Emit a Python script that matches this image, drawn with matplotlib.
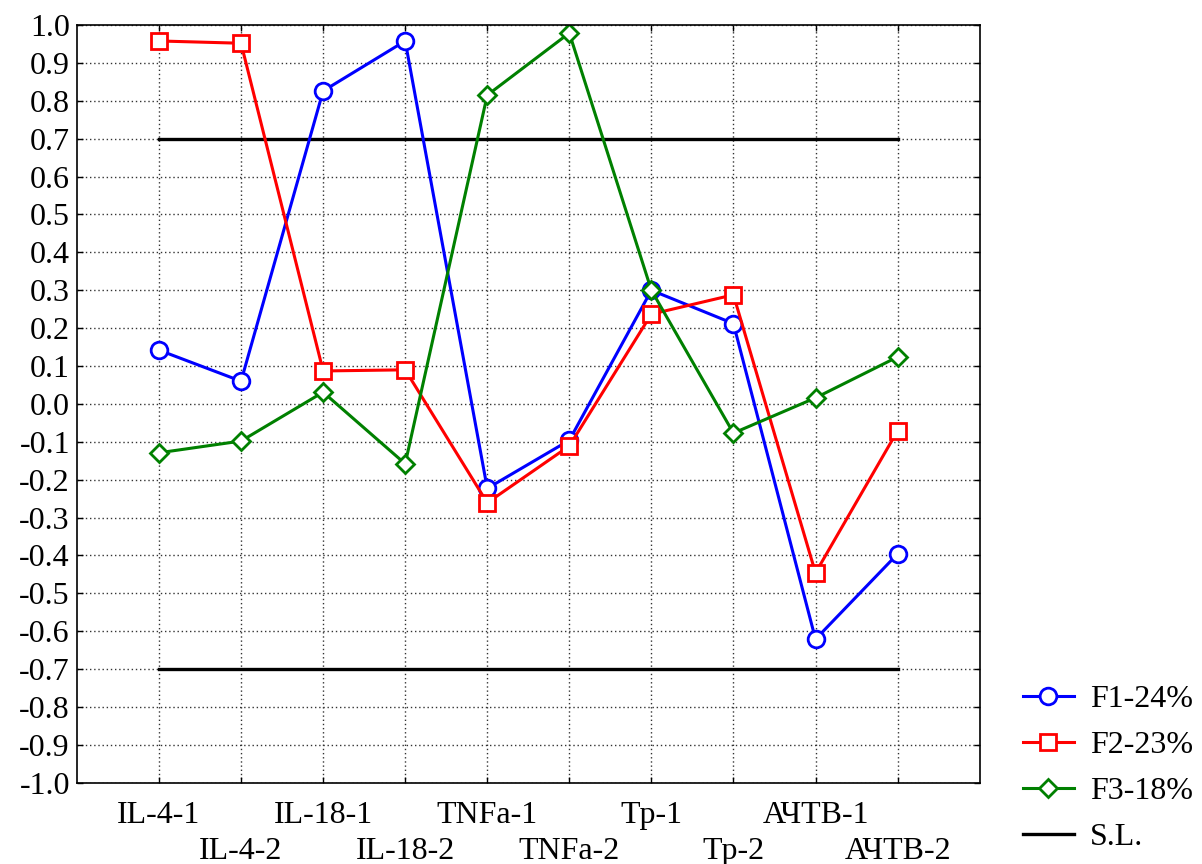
import matplotlib
matplotlib.use("Agg")
import matplotlib.pyplot as plt

plt.rcParams['font.family'] = ['Liberation Serif', 'DejaVu Serif']

labels = ['IL-4-1', 'IL-4-2', 'IL-18-1', 'IL-18-2', 'TNFa-1', 'TNFa-2',
          'Tp-1', 'Tp-2', 'АЧТВ-1', 'АЧТВ-2']
f1 = [0.142, 0.060, 0.826, 0.958, -0.223, -0.096, 0.300, 0.212, -0.621, -0.396]
f2 = [0.958, 0.952, 0.087, 0.090, -0.261, -0.111, 0.237, 0.288, -0.446, -0.071]
f3 = [-0.129, -0.098, 0.031, -0.158, 0.815, 0.979, 0.300, -0.077, 0.016, 0.124]
sl_level = 0.7

x = list(range(len(labels)))

fig = plt.figure(figsize=(12.02, 8.64), dpi=100)
ax = fig.add_axes([0.064, 0.094, 0.751, 0.877])

# significance level lines
sl, = ax.plot([x[0], x[-1]], [sl_level, sl_level], color='black', lw=2.4, label='S.L.')
ax.plot([x[0], x[-1]], [-sl_level, -sl_level], color='black', lw=2.4)

l1, = ax.plot(x, f1, color='#0000ff', lw=2.2, marker='o', ms=12, mfc='white',
              mec='#0000ff', mew=2, label='F1-24%')
l2, = ax.plot(x, f2, color='#ff0000', lw=2.2, marker='s', ms=11, mfc='white',
              mec='#ff0000', mew=2, label='F2-23%')
l3, = ax.plot(x, f3, color='#008000', lw=2.2, marker='D', ms=9, mfc='white',
              mec='#008000', mew=2, label='F3-18%')

ax.set_xlim(-1, 10)
ax.set_ylim(-1.0, 1.0)
ax.set_yticks([i / 10 for i in range(-10, 11)])
ax.set_yticklabels(['%.1f' % (i / 10) for i in range(-10, 11)], fontsize=23)

ax.set_xticks(x)
ax.set_xticklabels(labels, fontsize=23)

ax.tick_params(axis='both', direction='in', length=4, width=1, top=True, right=True,
               colors='black')
ax.tick_params(axis='y', pad=5)
# alternate labels on two rows
for i, t in enumerate(ax.xaxis.get_major_ticks()):
    t.set_pad(13 if i % 2 == 0 else 39)

ax.grid(True, linestyle=(0, (1, 2)), color='#333333', lw=1)
for s in ax.spines.values():
    s.set_linewidth(1.2)

fig.legend(handles=[l1, l2, l3, sl], loc='center left', bbox_to_anchor=(0.851, 0.111),
           frameon=False, fontsize=23, handlelength=1.6, handletextpad=0.5,
           labelspacing=0.52, borderpad=0, borderaxespad=0)

fig.savefig('out.png', dpi=100)
